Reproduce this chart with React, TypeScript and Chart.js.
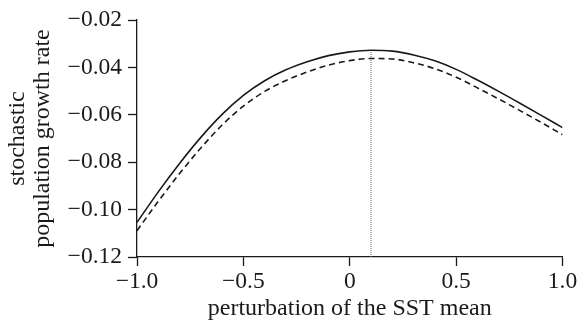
import React, { useEffect, useRef } from "react";
import { Chart, registerables } from "chart.js";

Chart.register(...registerables);

const xValues = [-1, -0.9, -0.8, -0.7, -0.6, -0.5, -0.4, -0.3, -0.2, -0.1, 0, 0.1, 0.2, 0.3, 0.4, 0.5, 0.6, 0.7, 0.8, 0.9, 1];
const solidSeries = [-0.1054, -0.0925, -0.0805, -0.0695, -0.0598, -0.0518, -0.0456, -0.041, -0.0376, -0.035, -0.0334, -0.0327, -0.0331, -0.0347, -0.0372, -0.0408, -0.0453, -0.0501, -0.0551, -0.0602, -0.0654];
const dashedSeries = [-0.1089, -0.0965, -0.0848, -0.074, -0.0643, -0.0563, -0.0501, -0.0455, -0.0419, -0.039, -0.0371, -0.0362, -0.0364, -0.038, -0.0405, -0.0441, -0.0486, -0.0533, -0.0582, -0.0632, -0.0684];
const optimumX = 0.1;
const optimumY = -0.0327;
const yMin = -0.12;
const yMax = -0.02;
const xTicks = [-1, -0.5, 0, 0.5, 1];
const xTickLabels = ["\u22121.0", "\u22120.5", "0", "0.5", "1.0"];
const yTicks = [-0.12, -0.1, -0.08, -0.06, -0.04, -0.02];
const yTickLabels = ["\u22120.12", "\u22120.10", "\u22120.08", "\u22120.06", "\u22120.04", "\u22120.02"];
const xTitle = "perturbation of the SST mean";
const yTitle = ["stochastic", "population growth rate"];

const FONT = "'Liberation Serif', 'Times New Roman', serif";
const INK = "#1a1a1a";

export default function App() {
  const ref = useRef<HTMLCanvasElement>(null);
  useEffect(() => {
    document.body.style.margin = "0";
    const canvas = ref.current!;
    const chart = new Chart(canvas, {
      type: "line",
      data: {
        datasets: [
          {
            data: xValues.map((x, i) => ({ x, y: solidSeries[i] })),
            borderColor: INK,
            borderWidth: 1.6,
            pointRadius: 0,
            cubicInterpolationMode: "monotone",
          },
          {
            data: xValues.map((x, i) => ({ x, y: dashedSeries[i] })),
            borderColor: INK,
            borderWidth: 1.6,
            borderDash: [6, 4],
            pointRadius: 0,
            cubicInterpolationMode: "monotone",
          },
          {
            data: [
              { x: optimumX, y: yMin },
              { x: optimumX, y: optimumY },
            ],
            borderColor: "#666",
            borderWidth: 1,
            borderDash: [1, 1],
            pointRadius: 0,
          },
        ],
      },
      options: {
        responsive: false,
        animation: false,
        layout: { padding: { top: 16, right: 16.5, left: 0, bottom: 0 } },
        plugins: { legend: { display: false }, tooltip: { enabled: false } },
        scales: {
          x: {
            type: "linear",
            min: -1,
            max: 1,
            afterBuildTicks: (s: any) => {
              s.ticks = xTicks.map((v) => ({ value: v }));
            },
            afterFit: (s: any) => {
              s.height = 72;
            },
            ticks: {
              color: INK,
              font: { family: FONT, size: 23.5 },
              padding: 1.5,
              maxRotation: 0,
              autoSkip: false,
              callback: (v: any) => {
                const i = xTicks.findIndex((t) => Math.abs(t - Number(v)) < 1e-9);
                return i >= 0 ? xTickLabels[i] : "";
              },
            },
            grid: { drawOnChartArea: false, tickLength: 9, tickColor: INK, tickWidth: 1.3 },
            border: { display: true, color: INK, width: 1.3 },
            title: {
              display: true,
              text: xTitle,
              color: INK,
              font: { family: FONT, size: 24, lineHeight: 25 / 24 },
              padding: { top: 0, bottom: 7.5 },
            },
          },
          y: {
            type: "linear",
            min: yMin,
            max: yMax,
            afterBuildTicks: (s: any) => {
              s.ticks = yTicks.map((v) => ({ value: v }));
            },
            afterFit: (s: any) => {
              s.width = 137;
            },
            ticks: {
              color: INK,
              font: { family: FONT, size: 23.5 },
              padding: 6,
              autoSkip: false,
              callback: (v: any) => {
                const i = yTicks.findIndex((t) => Math.abs(t - Number(v)) < 1e-9);
                return i >= 0 ? yTickLabels[i] : "";
              },
            },
            grid: { drawOnChartArea: false, tickLength: 9, tickColor: INK, tickWidth: 1.3 },
            border: { display: true, color: INK, width: 1.3 },
            title: {
              display: true,
              text: yTitle,
              color: INK,
              font: { family: FONT, size: 24, lineHeight: 25 / 24 },
              padding: { top: 5.5, bottom: 0 },
            },
          },
        },
      },
    } as any);
    return () => chart.destroy();
  }, []);
  return (
    <div style={{ width: 579, height: 329 }}>
      <canvas ref={ref} width={579} height={329} style={{ width: 579, height: 329, display: "block" }} />
    </div>
  );
}
